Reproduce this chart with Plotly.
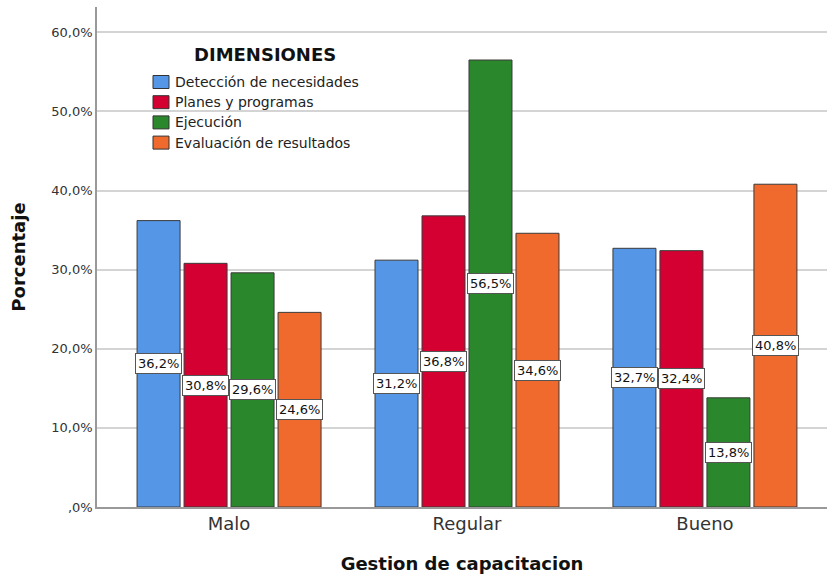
import plotly.graph_objects as go

categories = ["Malo", "Regular", "Bueno"]
series_names = ["Detección de necesidades", "Planes y programas", "Ejecución", "Evaluación de resultados"]
values = [
    [36.2, 31.2, 32.7],
    [30.8, 36.8, 32.4],
    [29.6, 56.5, 13.8],
    [24.6, 34.6, 40.8],
]
colors = ["#5596E6", "#D50032", "#2B872B", "#F06A2D"]
y_ticks = [0, 10, 20, 30, 40, 50, 60]
y_tick_labels = [",0%", "10,0%", "20,0%", "30,0%", "40,0%", "50,0%", "60,0%"]
legend_title = "DIMENSIONES"

FONT = "DejaVu Sans, Liberation Sans, Arial, sans-serif"
BARGAP = 0.21
GROUPGAP = 0.085

W, H = 827, 577
ML, MR, MT, MB = 97, 0, 7, 70
PW, PH = W - ML - MR, H - MT - MB


def px_x(px):
    return (px - ML) / PW


def px_y(py):
    return 1 - (py - MT) / PH


fig = go.Figure()
xpos = list(range(len(categories)))
for name, vals, col in zip(series_names, values, colors):
    fig.add_trace(go.Bar(
        x=xpos, y=vals, name=name,
        marker=dict(color=col, line=dict(color="#3a3a3a", width=1)),
        hoverinfo="skip", showlegend=False,
    ))

# value labels, boxed, at the middle of each bar
n = len(series_names)
slot = (1 - BARGAP) / n
for i, vals in enumerate(values):
    off = (i - (n - 1) / 2) * slot
    for j, v in enumerate(vals):
        fig.add_annotation(
            x=j + off, y=v / 2, xref="x", yref="y",
            text=f"{v:.1f}%".replace(".", ","),
            showarrow=False,
            font=dict(family=FONT, size=13, color="#111"),
            bgcolor="white", bordercolor="#555", borderwidth=1, borderpad=2,
        )

# legend drawn by hand: title, swatches and labels
fig.add_annotation(
    x=px_x(265), y=px_y(55), xref="paper", yref="paper",
    text=f"<b>{legend_title}</b>", showarrow=False,
    xanchor="center", yanchor="middle",
    font=dict(family=FONT, size=18, color="#111"),
)
row0, pitch = 82, 20.2
for k, (name, col) in enumerate(zip(series_names, colors)):
    cy = row0 + k * pitch
    fig.add_shape(
        type="rect", xref="paper", yref="paper",
        x0=px_x(153), x1=px_x(169), y0=px_y(cy - 6.5), y1=px_y(cy + 6.5),
        fillcolor=col, line=dict(color="#333", width=1),
    )
    fig.add_annotation(
        x=px_x(173), y=px_y(cy), xref="paper", yref="paper",
        text=name, showarrow=False, xanchor="left", yanchor="middle",
        font=dict(family=FONT, size=14, color="#222"),
    )

fig.update_layout(
    width=W, height=H,
    margin=dict(l=ML, r=MR, t=MT, b=MB),
    paper_bgcolor="white", plot_bgcolor="white",
    barmode="group", bargap=BARGAP, bargroupgap=GROUPGAP,
    font=dict(family=FONT, color="#222"),
    showlegend=False,
    xaxis=dict(
        range=[-0.555, 2.513],
        tickvals=xpos, ticktext=categories,
        tickfont=dict(family=FONT, size=18, color="#333"),
        showline=True, linecolor="#999", linewidth=1.5,
        showgrid=False, ticks="", zeroline=False,
        title=dict(text="<b>Gestion de capacitacion</b>",
                   font=dict(family=FONT, size=18, color="#111"), standoff=24),
    ),
    yaxis=dict(
        range=[0, 63.2],
        tickvals=y_ticks, ticktext=y_tick_labels,
        tickfont=dict(family=FONT, size=13, color="#333"),
        showline=True, linecolor="#999", linewidth=1.5,
        showgrid=True, gridcolor="#d4d4d4", gridwidth=1.5,
        ticks="", zeroline=False,
        title=dict(text="<b>Porcentaje</b>",
                   font=dict(family=FONT, size=18, color="#111"), standoff=21),
    ),
)

fig.write_html("out.html")
